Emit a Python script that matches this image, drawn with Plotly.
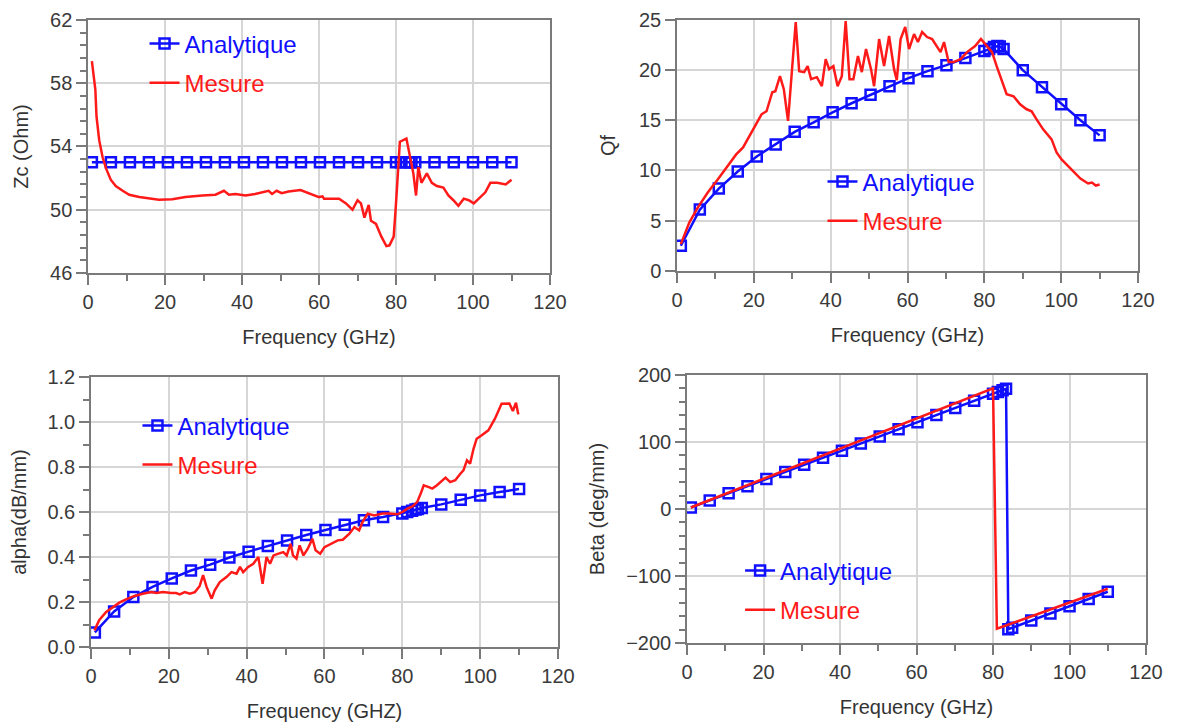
import plotly.graph_objects as go

# ── Données ──────────────────────────────────────────────────────────────────

# points du modèle analytique (communs aux 4 graphes)
freq_ana = [1, 5.94, 10.88, 15.81, 20.75, 25.69, 30.63, 35.56, 40.5, 45.44,
            50.38, 55.31, 60.25, 65.19, 70.13, 75.06, 80, 81.25, 82.5, 83.4,
            84, 85, 90, 95, 100, 105, 110]

zc_ana = [53.0, 53.0, 53.0, 53.0, 53.0, 53.0, 53.0, 53.0, 53.0, 53.0,
          53.0, 53.0, 53.0, 53.0, 53.0, 53.0, 53.0, 53.0, 53.0, 53.0,
          53.0, 53.0, 53.0, 53.0, 53.0, 53.0, 53.0]

qf_ana = [2.5, 6.1, 8.2, 9.9, 11.4, 12.6, 13.85, 14.8, 15.8, 16.7,
          17.55, 18.4, 19.2, 19.9, 20.5, 21.2, 21.9, 22.1, 22.3, 22.4,
          22.35, 22.1, 20.0, 18.3, 16.6, 15.0, 13.5]

alpha_ana = [0.065, 0.158, 0.222, 0.267, 0.305, 0.34, 0.366, 0.398, 0.424, 0.449,
             0.474, 0.498, 0.52, 0.543, 0.563, 0.578, 0.594, 0.6, 0.606, 0.611,
             0.614, 0.618, 0.634, 0.655, 0.674, 0.689, 0.702]

beta_ana = [2.2, 12.8, 23.4, 34, 44.6, 55.2, 65.9, 76.5, 87.1, 97.7,
            108.3, 118.9, 129.5, 140.2, 150.8, 161.4, 172, 174.7, 177.4, 179.3,
            -179.4, -177.3, -166.5, -155.8, -145, -134.3, -123.5]

# mesures
freq_zc = [1, 1.9, 2.2, 2.9, 3.8, 4.7, 5.9, 7.2, 9, 10.7, 13.3, 15.9, 18.4, 21.9,
           25.3, 29.7, 33.1, 35.3, 36.6, 38.3, 40.9, 43.4, 46.9, 47.8, 49, 50.3,
           52.1, 55.2, 57.4, 60, 60.9, 61.3, 62.6, 65.2, 67, 68.7, 70, 70.9, 71.8,
           72.9, 73.5, 74.8, 76.2, 77.5, 78.3, 79.4, 80, 81, 82.7, 83.6, 84.5,
           85.2, 85.8, 86.6, 88, 89.3, 90.6, 92.3, 93.6, 94.9, 96.2, 97.6, 98.9,
           100.2, 101.9, 103.2, 104.5, 106.3, 108.5, 110]
zc_mes = [59.4, 57.6, 55.9, 54.4, 53.3, 52.6, 51.9, 51.5, 51.2, 50.95, 50.8, 50.7,
          50.63, 50.67, 50.8, 50.9, 50.95, 51.2, 50.95, 51.0, 50.9, 51.0, 51.2, 51.0,
          51.2, 51.05, 51.15, 51.25, 51.04, 50.8, 50.85, 50.7, 50.7, 50.7, 50.4, 50.0,
          50.6, 50.4, 49.5, 50.3, 49.3, 49.1, 48.3, 47.7, 47.75, 48.3, 50.4, 54.3,
          54.5, 53.5, 52.3, 50.9, 52.7, 51.7, 52.3, 51.7, 51.5, 51.4, 50.9, 50.6,
          50.25, 50.7, 50.6, 50.4, 50.8, 51.1, 51.7, 51.7, 51.6, 51.9]

freq_qf = [1, 3.2, 5.4, 8, 10.6, 13.3, 15.4, 17.2, 18.9, 20.2, 22, 23.3, 24.8, 25.6,
           26.8, 27.8, 28.9, 30.9, 31.8, 33.1, 34, 34.9, 36.4, 37.7, 38.7, 39.6,
           40.7, 41.8, 42.9, 43.9, 44.9, 45.9, 47.1, 48.1, 49.2, 50.5, 51.3, 52.6,
           53.9, 55.2, 56.5, 57.2, 58.2, 59.4, 60.4, 61.7, 62.7, 63.8, 65.1, 66.4,
           67.7, 68.6, 69.5, 70.7, 72, 73.8, 75.5, 77.6, 79.1, 80.7, 82, 83.2, 84.5,
           85.8, 87.6, 89.3, 91, 92.3, 93.6, 95.3, 97.5, 98.8, 100.1, 102.2, 105,
           107, 108, 109, 110]
qf_mes = [2.66, 4.8, 6.3, 7.8, 9.1, 10.5, 11.6, 12.3, 13.5, 14.3, 15.6, 15.9, 17.8,
          17.9, 19.4, 18.1, 14.95, 24.8, 19.9, 19.8, 20.4, 19.1, 19.3, 18.4, 21.1,
          20.1, 20.4, 18.4, 19.4, 24.9, 19.1, 19.1, 21.4, 19.8, 22.1, 20.1, 18.4,
          23.1, 20.4, 23.4, 20.1, 19.0, 23.1, 24.3, 22.1, 23.6, 22.8, 23.8, 23.3,
          23.1, 22.4, 21.8, 22.8, 20.8, 20.8, 21.1, 21.8, 22.4, 23.1, 22.4, 21.8,
          20.4, 19.1, 17.6, 17.4, 16.6, 16.1, 15.9, 15.1, 14.1, 13.1, 11.8, 11.1,
          10.3, 9.2, 8.7, 8.8, 8.5, 8.6]

freq_al = [0.9, 2.1, 3.9, 5.6, 7.3, 9, 11.2, 13.3, 15.5, 16.8, 18.5, 20.6, 21.9,
           22.8, 24.1, 25.4, 26.7, 27.9, 28.8, 29.7, 31, 31.8, 33.1, 34.8, 36.1,
           37.4, 38.3, 39.1, 40.4, 41.7, 43, 44.1, 45.1, 46, 46.9, 48.2, 49.4,
           50.3, 51.3, 51.9, 52.8, 53.6, 54.6, 55.7, 56.9, 57.7, 58.9, 60, 61.7,
           63.4, 64.7, 66.4, 67.7, 68.9, 69.8, 71.1, 72.8, 74.9, 76.6, 78.7, 80,
           81.3, 82.6, 83.8, 84.7, 85.5, 86.8, 87.7, 88.9, 90.2, 91.1, 92.3, 93.6,
           94.9, 95.7, 96.6, 97.4, 98.3, 99.1, 100.4, 102.1, 103.8, 105.5, 107.5,
           108.4, 109.2, 109.8]
alpha_mes = [0.074, 0.119, 0.156, 0.178, 0.197, 0.212, 0.227, 0.237, 0.244, 0.24,
             0.244, 0.24, 0.24, 0.234, 0.244, 0.237, 0.244, 0.27, 0.32, 0.267,
             0.215, 0.252, 0.289, 0.311, 0.333, 0.326, 0.356, 0.333, 0.356, 0.37,
             0.40, 0.281, 0.40, 0.37, 0.407, 0.415, 0.422, 0.407, 0.459, 0.407,
             0.393, 0.452, 0.407, 0.437, 0.481, 0.43, 0.415, 0.444, 0.459, 0.474,
             0.477, 0.504, 0.533, 0.519, 0.556, 0.593, 0.585, 0.593, 0.593, 0.59,
             0.6, 0.615, 0.625, 0.644, 0.681, 0.719, 0.711, 0.704, 0.719, 0.741,
             0.753, 0.733, 0.741, 0.77, 0.785, 0.83, 0.815, 0.881, 0.926, 0.941,
             0.963, 1.015, 1.081, 1.082, 1.049, 1.086, 1.034]

freq_be = [1, 10, 20, 30, 40, 50, 60, 70, 80, 81, 90, 100, 110]
beta_mes = [2.3, 22.5, 45, 67.5, 90, 112.5, 135, 157.5, 180, -178.6, -160, -140, -119]

BLEU = "#1010ff"
ROUGE = "#ff1a1a"
GRIS = "#7a7a7a"
POLICE = "Liberation Sans, Arial, sans-serif"


# ── Style commun des axes ────────────────────────────────────────────────────

def _axe(domaine, ancre, plage, pas, pas_mineur, titre, recul, **extra):
    ax = dict(
        domain=domaine, anchor=ancre, range=plage, dtick=pas, tick0=plage[0],
        showline=True, mirror=True, linecolor=GRIS, linewidth=1.5,
        ticks="outside", ticklen=10, tickwidth=1.5, tickcolor=GRIS,
        showgrid=True, gridcolor="#d6d6d6", gridwidth=1.5, zeroline=False,
        tickfont=dict(size=20, color="#3a3a3a", family=POLICE),
        title=dict(text=titre, standoff=recul,
                   font=dict(size=20, color="#333333", family=POLICE)),
        automargin=False,
    )
    if pas_mineur:
        ax["minor"] = dict(dtick=pas_mineur, tick0=plage[0], ticks="outside",
                           ticklen=6, tickwidth=1.5, tickcolor=GRIS, showgrid=False)
    ax.update(extra)
    return ax


def _traces(fig, x_ana, y_ana, x_mes, y_mes, xa, ya, leg):
    fig.add_trace(go.Scatter(
        x=x_ana, y=y_ana, mode="lines+markers",
        name=f"<span style='color:{BLEU}'>Analytique</span>",
        line=dict(color=BLEU, width=2.5),
        marker=dict(symbol="square-open", size=10, color=BLEU, line=dict(width=2.5)),
        xaxis=xa, yaxis=ya, legend=leg, legendgroup=leg + "a",
    ))
    fig.add_trace(go.Scatter(
        x=x_mes, y=y_mes, mode="lines",
        name=f"<span style='color:{ROUGE}'>Mesure</span>",
        line=dict(color=ROUGE, width=2.5),
        xaxis=xa, yaxis=ya, legend=leg, legendgroup=leg + "m",
    ))


def _legende(x, y):
    return dict(
        x=x, y=y, xanchor="left", yanchor="top", bgcolor="rgba(0,0,0,0)",
        font=dict(size=24, family=POLICE), itemwidth=30, tracegroupgap=5,
    )


fig = go.Figure()
_traces(fig, freq_ana, zc_ana, freq_zc, zc_mes, "x", "y", "legend")
_traces(fig, freq_ana, qf_ana, freq_qf, qf_mes, "x2", "y2", "legend2")
_traces(fig, freq_ana, alpha_ana, freq_al, alpha_mes, "x3", "y3", "legend3")
_traces(fig, freq_ana, beta_ana, freq_be, beta_mes, "x4", "y4", "legend4")

fig.update_layout(
    width=1177, height=726,
    margin=dict(l=0, r=0, t=0, b=0),
    paper_bgcolor="white", plot_bgcolor="white",
    font=dict(family=POLICE),
    showlegend=True,

    xaxis=_axe([0.068, 0.4605], "y", [0, 120], 20, 10, "Frequency (GHz)", 18),
    yaxis=_axe([0.635, 0.9835], "x", [46, 62], 4, 0.8, "Zc (Ohm)", 16),
    xaxis2=_axe([0.5684, 0.9601], "y2", [0, 120], 20, 10, "Frequency (GHz)", 18),
    yaxis2=_axe([0.638, 0.9835], "x2", [0, 25], 5, None, "Qf", 18),
    xaxis3=_axe([0.0705, 0.4673], "y3", [0, 120], 20, 10, "Frequency (GHZ)", 18),
    yaxis3=_axe([0.1198, 0.4917], "x3", [0, 1.2], 0.2, 0.1, "alpha(dB/mm)", 16,
                tickformat=".1f"),
    xaxis4=_axe([0.5769, 0.9669], "y4", [0, 120], 20, 10, "Frequency (GHz)", 18),
    yaxis4=_axe([0.1253, 0.4945], "x4", [-200, 200], 100, 20, "Beta (deg/mm)", 16),

    legend=_legende(0.116, 0.9815),
    legend2=_legende(0.692, 0.7915),
    legend3=_legende(0.110, 0.4555),
    legend4=_legende(0.622, 0.2555),
)

fig.write_html("out.html")
